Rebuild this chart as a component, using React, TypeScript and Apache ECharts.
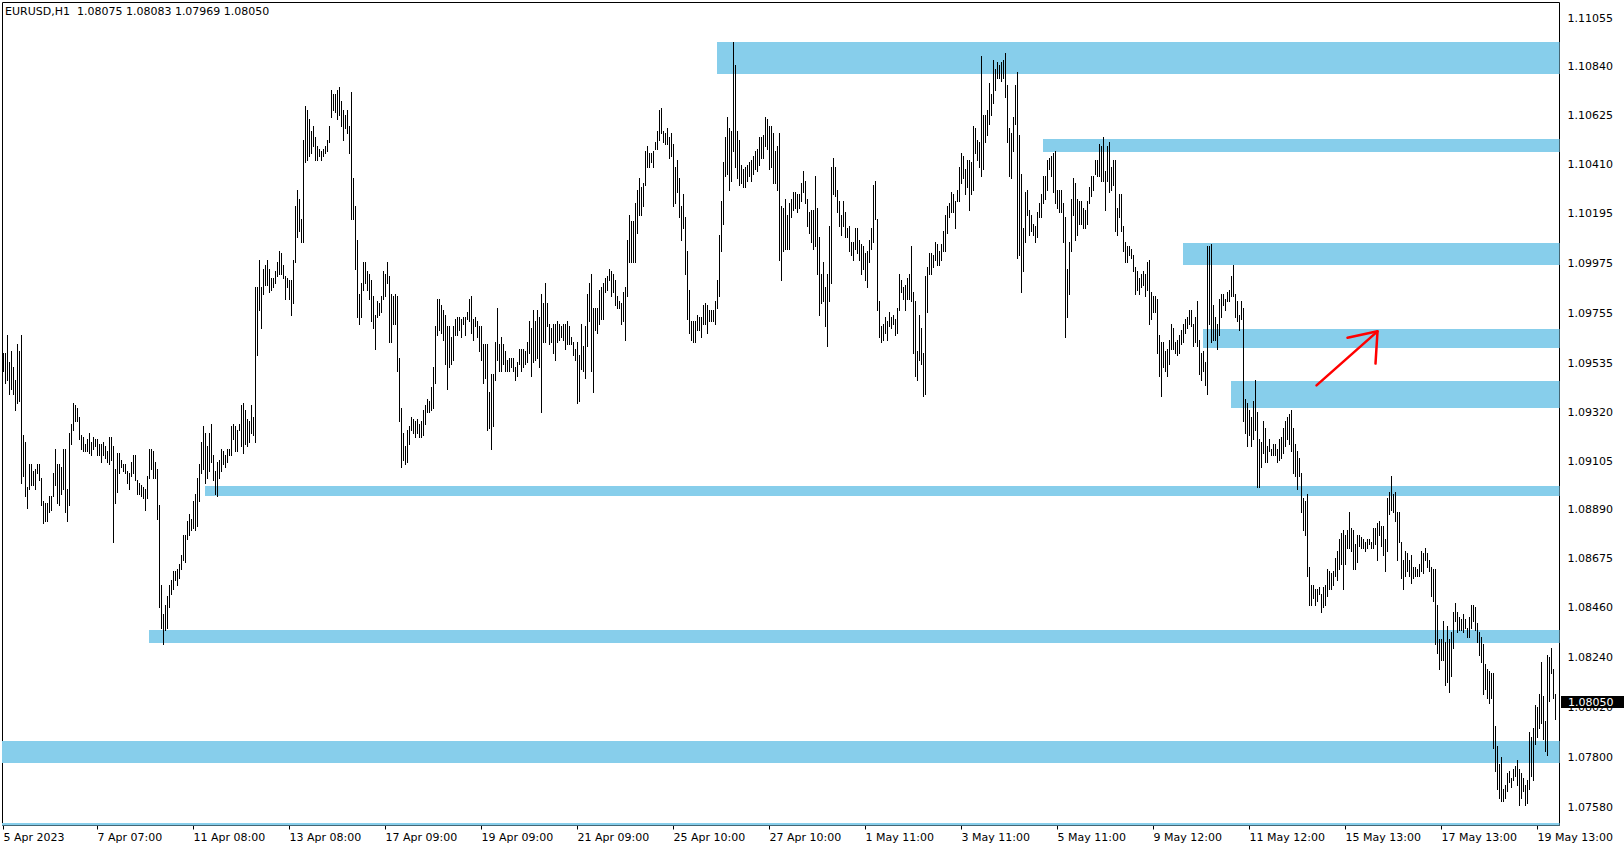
import React, { useEffect, useRef } from "react";
import * as echarts from "echarts";

// EURUSD H1 bars, each entry is [high, low]
type Bar = [number, number];

const headerText = "EURUSD,H1  1.08075 1.08083 1.07969 1.08050";
const lastClose = 1.0805;
const lastCloseText = "1.08050";

const barsApr05: Bar[] = [
  [1.0958,1.0950],[1.0958,1.0945],[1.0966,1.0946],[1.0954,1.0940],[1.0959,1.0942],[1.0952,1.0940],[1.0946,1.0933],[1.0962,1.0936],[1.0959,1.0937],[1.0966,1.0901],
  [1.0922,1.0904],[1.0919,1.0895],[1.0899,1.0890],[1.0909,1.0898],[1.0909,1.0900],[1.0906,1.0900],[1.0907,1.0898],[1.0909,1.0905],[1.0909,1.0902],[1.0903,1.0891],
  [1.0893,1.0883],[1.0892,1.0884],[1.0892,1.0884],[1.0895,1.0888],[1.0895,1.0889],[1.0905,1.0895],[1.0916,1.0900],[1.0909,1.0892],[1.0909,1.0891],[1.0908,1.0896],
  [1.0916,1.0898],[1.0916,1.0888],[1.0898,1.0884],[1.0923,1.0891],[1.0927,1.0918],[1.0936,1.0924],[1.0935,1.0928],[1.0934,1.0928],[1.0930,1.0920],[1.0922,1.0916],
  [1.0921,1.0915],[1.0918,1.0915],[1.0920,1.0915],[1.0923,1.0914],[1.0919,1.0913],[1.0921,1.0916],[1.0920,1.0917],[1.0920,1.0913],[1.0918,1.0913],[1.0918,1.0910],
  [1.0919,1.0913],[1.0917,1.0912],[1.0915,1.0910],[1.0921,1.0909],[1.0921,1.0911],[1.0917,1.0875],[1.0907,1.0892],[1.0914,1.0897],[1.0914,1.0905],[1.0911,1.0908],
  [1.0909,1.0906],[1.0909,1.0905],[1.0906,1.0901],[1.0905,1.0898],[1.0910,1.0904],[1.0913,1.0905],[1.0913,1.0902],[1.0902,1.0896],[1.0901,1.0896],[1.0900,1.0895],
  [1.0899,1.0894],[1.0898,1.0889],[1.0904,1.0894],[1.0916,1.0903]
];

const barsApr07: Bar[] = [
  [1.0916,1.0907],[1.0915,1.0903],[1.0910,1.0903],[1.0907,1.0885],[1.0891,1.0846],[1.0856,1.0837],[1.0843,1.0830],[1.0847,1.0836],[1.0851,1.0837],[1.0856,1.0846],
  [1.0858,1.0852],[1.0862,1.0854],[1.0862,1.0858],[1.0863,1.0856],[1.0865,1.0859],[1.0869,1.0863],[1.0878,1.0867],[1.0878,1.0866],[1.0884,1.0876],[1.0887,1.0878],
  [1.0885,1.0880],[1.0893,1.0881],[1.0896,1.0880],[1.0903,1.0882],[1.0909,1.0893],[1.0919,1.0905],[1.0926,1.0907],[1.0923,1.0901],[1.0917,1.0903],[1.0923,1.0906],
  [1.0927,1.0910],[1.0913,1.0902],[1.0906,1.0896],[1.0910,1.0895],[1.0911,1.0903],[1.0916,1.0906],[1.0915,1.0909],[1.0913,1.0908],[1.0916,1.0910],[1.0916,1.0913],
  [1.0926,1.0913],[1.0927,1.0920],[1.0926,1.0915],[1.0924,1.0915],[1.0927,1.0924],[1.0935,1.0917],[1.0936,1.0914],[1.0933,1.0918],[1.0929,1.0917],[1.0928,1.0919],
  [1.0935,1.0923],[1.0930,1.0922],[1.0987,1.0919],[1.0987,1.0957],[1.0999,1.0977],[1.0987,1.0969],[1.0995,1.0984],[1.0997,1.0988],[1.0999,1.0988],[1.0995,1.0985],
  [1.0991,1.0986],[1.0991,1.0987],[1.0994,1.0989],[1.0998,1.0992],[1.1003,1.0993],[1.1002,1.0993],[1.0997,1.0991],[1.0992,1.0982],[1.0991,1.0987],[1.0990,1.0982]
];

const barsApr13: Bar[] = [
  [1.0990,1.0975],[1.0999,1.0980],[1.1023,1.0998],[1.1030,1.1009],[1.1026,1.1012],[1.1017,1.1007],[1.1052,1.1007],[1.1067,1.1042],[1.1065,1.1043],[1.1061,1.1045],
  [1.1056,1.1046],[1.1058,1.1049],[1.1053,1.1043],[1.1049,1.1043],[1.1048,1.1045],[1.1047,1.1043],[1.1048,1.1045],[1.1049,1.1046],[1.1052,1.1047],[1.1058,1.1051],
  [1.1074,1.1062],[1.1072,1.1065],[1.1072,1.1064],[1.1074,1.1061],[1.1075,1.1063],[1.1069,1.1058],[1.1065,1.1052],[1.1063,1.1057],[1.1065,1.1055],[1.1058,1.1046],
  [1.1073,1.1017],[1.1035,1.1017],[1.1023,1.0995],[1.1008,1.0974],[1.0984,1.0971],[1.0989,1.0974],[1.0998,1.0986],[1.0998,1.0989],[1.0994,1.0986],[1.0993,1.0982],
  [1.0990,1.0972],[1.0983,1.0969],[1.0975,1.0960],[1.0981,1.0974],[1.0980,1.0975],[1.0983,1.0976],[1.0994,1.0982],[1.0993,1.0983],[1.0998,1.0989],[1.0992,1.0963],
  [1.0984,1.0963],[1.0983,1.0971],[1.0984,1.0971],[1.0983,1.0950],[1.0956,1.0928],[1.0934,1.0908],[1.0923,1.0911],[1.0917,1.0909],[1.0924,1.0910],[1.0926,1.0918],
  [1.0930,1.0924],[1.0929,1.0923],[1.0928,1.0921],[1.0929,1.0923],[1.0927,1.0921],[1.0928,1.0921],[1.0933,1.0922],[1.0935,1.0927],[1.0938,1.0932],[1.0937,1.0932]
];

const barsApr18: Bar[] = [
  [1.0943,1.0933],[1.0952,1.0934],[1.0970,1.0945],[1.0982,1.0966],[1.0982,1.0968],[1.0979,1.0967],[1.0977,1.0964],[1.0975,1.0953],[1.0970,1.0942],[1.0970,1.0952],
  [1.0965,1.0953],[1.0970,1.0955],[1.0973,1.0966],[1.0974,1.0966],[1.0974,1.0968],[1.0973,1.0965],[1.0974,1.0971],[1.0974,1.0966],[1.0976,1.0973],[1.0982,1.0972],
  [1.0983,1.0967],[1.0973,1.0964],[1.0974,1.0970],[1.0972,1.0965],[1.0970,1.0959],[1.0970,1.0955],[1.0962,1.0945],[1.0962,1.0947],[1.0962,1.0924],[1.0941,1.0925],
  [1.0949,1.0916],[1.0949,1.0926],[1.0963,1.0946],[1.0978,1.0955],[1.0962,1.0950],[1.0965,1.0950],[1.0962,1.0953],[1.0959,1.0950],[1.0955,1.0950],[1.0956,1.0950],
  [1.0956,1.0952],[1.0956,1.0950],[1.0952,1.0946],[1.0954,1.0948],[1.0960,1.0953],[1.0960,1.0950],[1.0960,1.0952],[1.0959,1.0953],[1.0963,1.0954],[1.0972,1.0958],
  [1.0969,1.0948],[1.0977,1.0954],[1.0972,1.0955],[1.0977,1.0956],[1.0974,1.0952],[1.0984,1.0932],[1.0980,1.0963],[1.0989,1.0963],[1.0980,1.0970],[1.0971,1.0962],
  [1.0969,1.0963],[1.0971,1.0958],[1.0971,1.0955],[1.0972,1.0963],[1.0971,1.0964],[1.0970,1.0965],[1.0971,1.0964],[1.0971,1.0960],[1.0972,1.0962],[1.0970,1.0962]
];

const barsApr21: Bar[] = [
  [1.0965,1.0962],[1.0963,1.0957],[1.0960,1.0955],[1.0963,1.0936],[1.0957,1.0937],[1.0971,1.0951],[1.0961,1.0950],[1.0970,1.0947],[1.0984,1.0961],[1.0989,1.0972],
  [1.0993,1.0950],[1.0978,1.0941],[1.0978,1.0968],[1.0978,1.0967],[1.0986,1.0971],[1.0987,1.0973],[1.0989,1.0973],[1.0991,1.0985],[1.0992,1.0986],[1.0995,1.0990],
  [1.0994,1.0983],[1.0993,1.0985],[1.0990,1.0979],[1.0983,1.0978],[1.0981,1.0978],[1.0980,1.0971],[1.0985,1.0972],[1.0987,1.0964],[1.1008,1.0983],[1.1019,1.0998],
  [1.1016,1.0998],[1.1016,1.0998],[1.1024,1.0998],[1.1030,1.1011],[1.1035,1.1019],[1.1031,1.1019],[1.1033,1.1023],[1.1047,1.1032],[1.1049,1.1040],[1.1046,1.1040],
  [1.1046,1.1042],[1.1047,1.1040],[1.1051,1.1048],[1.1056,1.1048],[1.1065,1.1052],[1.1066,1.1055],[1.1056,1.1051],[1.1055,1.1050],[1.1057,1.1050],[1.1053,1.1044],
  [1.1055,1.1045],[1.1050,1.1023],[1.1040,1.1024],[1.1043,1.1029],[1.1035,1.1018],[1.1023,1.1008],[1.1028,1.1013],[1.1018,1.0993],[1.1003,1.0973],[1.0986,1.0967],
  [1.0972,1.0964],[1.0972,1.0963],[1.0972,1.0963],[1.0975,1.0968],[1.0974,1.0968],[1.0974,1.0965],[1.0979,1.0971],[1.0980,1.0971],[1.0979,1.0967],[1.0977,1.0972],
  [1.0977,1.0972],[1.0977,1.0972]
];

const barsApr26: Bar[] = [
  [1.0981,1.0971],[1.0990,1.0978],[1.1010,1.0983],[1.1025,1.1003],[1.1042,1.1015],[1.1053,1.1036],[1.1062,1.1037],[1.1057,1.1030],[1.1056,1.1034],[1.1095,1.1047],
  [1.1085,1.1040],[1.1056,1.1035],[1.1052,1.1032],[1.1041,1.1033],[1.1039,1.1031],[1.1040,1.1031],[1.1041,1.1034],[1.1042,1.1036],[1.1043,1.1034],[1.1045,1.1037],
  [1.1047,1.1039],[1.1048,1.1038],[1.1053,1.1041],[1.1053,1.1044],[1.1054,1.1044],[1.1062,1.1049],[1.1061,1.1048],[1.1058,1.1039],[1.1058,1.1040],[1.1055,1.1033],
  [1.1047,1.1033],[1.1049,1.1030],[1.1055,1.0999],[1.1023,1.0990],[1.1022,1.1003],[1.1026,1.1004],[1.1019,1.1004],[1.1024,1.1004],[1.1026,1.1018],[1.1029,1.1021],
  [1.1029,1.1022],[1.1028,1.1020],[1.1028,1.1022],[1.1033,1.1025],[1.1038,1.1029],[1.1034,1.1024],[1.1026,1.1014],[1.1020,1.1011],[1.1021,1.1007],[1.1021,1.1004],
  [1.1036,1.1005],[1.1022,1.0993],[1.1009,1.0975],[1.0993,1.0980],[1.0998,1.0981],[1.0987,1.0970],[1.0993,1.0961],[1.1014,1.0981],[1.1040,1.0989],[1.1044,1.1028],
  [1.1040,1.1027],[1.1030,1.1020],[1.1025,1.1014],[1.1019,1.1010],[1.1025,1.1014],[1.1020,1.1009],[1.1013,1.1009],[1.1014,1.1003],[1.1007,1.1001],[1.1007,1.0999]
];

const barsMay01: Bar[] = [
  [1.1013,1.1004],[1.1013,1.1002],[1.1008,1.0999],[1.1006,1.0993],[1.1005,1.0995],[1.1002,1.0990],[1.1003,1.0987],[1.1008,1.0998],[1.1013,1.1004],[1.1032,1.1007],
  [1.1034,1.1017],[1.1017,1.0977],[1.0981,1.0965],[1.0970,1.0963],[1.0971,1.0964],[1.0974,1.0967],[1.0972,1.0964],[1.0976,1.0970],[1.0974,1.0969],[1.0975,1.0971],
  [1.0973,1.0966],[1.0978,1.0967],[1.0993,1.0977],[1.0990,1.0985],[1.0987,1.0982],[1.0988,1.0977],[1.0991,1.0982],[1.0993,1.0982],[1.1005,1.0981],[1.0985,1.0958],
  [1.0981,1.0948],[1.0959,1.0946],[1.0975,1.0955],[1.0969,1.0953],[1.0958,1.0939],[1.0992,1.0940],[1.0996,1.0976],[1.1002,1.0993],[1.1002,1.0993],[1.1001,1.0996],
  [1.1007,1.0999],[1.1006,1.0997],[1.1003,1.0997],[1.1006,1.0999],[1.1012,1.1003],[1.1019,1.1003],[1.1023,1.1011],[1.1024,1.1018],[1.1029,1.1020],[1.1028,1.1020],
  [1.1025,1.1013],[1.1030,1.1025],[1.1040,1.1025],[1.1046,1.1033],[1.1045,1.1035],[1.1039,1.1028],[1.1043,1.1031],[1.1043,1.1021],[1.1042,1.1028],[1.1058,1.1030],
  [1.1057,1.1046],[1.1052,1.1043],[1.1051,1.1040],[1.1089,1.1036],[1.1063,1.1039],[1.1063,1.1051],[1.1065,1.1054],[1.1077,1.1059],[1.1072,1.1063],[1.1087,1.1068],
  [1.1083,1.1074],[1.1086,1.1079],[1.1085,1.1079]
];

const barsMay04: Bar[] = [
  [1.1086,1.1078],[1.1087,1.1079],[1.1090,1.1071],[1.1076,1.1051],[1.1057,1.1036],[1.1055,1.1035],[1.1062,1.1047],[1.1076,1.1059],[1.1082,1.1000],[1.1054,1.1001],
  [1.1037,1.0985],[1.1013,1.0994],[1.1029,1.1007],[1.1030,1.1019],[1.1021,1.1010],[1.1019,1.1012],[1.1015,1.1010],[1.1014,1.1007],[1.1020,1.1009],[1.1024,1.1018],
  [1.1028,1.1018],[1.1036,1.1024],[1.1036,1.1026],[1.1043,1.1030],[1.1044,1.1039],[1.1045,1.1036],[1.1046,1.1029],[1.1047,1.1024],[1.1030,1.1022],[1.1030,1.1020],
  [1.1030,1.1020],[1.1024,1.1007],[1.1018,1.0965],[1.0995,1.0974],[1.1007,1.0984],[1.1026,1.1003],[1.1035,1.1019],[1.1033,1.1008],[1.1026,1.1010],[1.1025,1.1015],
  [1.1025,1.1015],[1.1022,1.1013],[1.1021,1.1013],[1.1025,1.1015],[1.1031,1.1024],[1.1036,1.1027],[1.1036,1.1030],[1.1043,1.1037],[1.1043,1.1036],[1.1050,1.1036],
  [1.1049,1.1034],[1.1053,1.1034],[1.1038,1.1021],[1.1049,1.1034],[1.1051,1.1029],[1.1040,1.1030],[1.1043,1.1032],[1.1043,1.1012],[1.1022,1.1010],[1.1028,1.1018],
  [1.1028,1.1012],[1.1014,1.1003],[1.1007,1.0998],[1.1005,1.0998],[1.1005,1.1001],[1.1004,1.1000],[1.1001,1.0994],[1.0996,1.0984],[1.0994,1.0986],[1.0991,1.0984]
];

const barsMay09: Bar[] = [
  [1.0993,1.0987],[1.0994,1.0988],[1.0993,1.0983],[1.0998,1.0986],[1.0999,1.0971],[1.0985,1.0973],[1.0983,1.0976],[1.0983,1.0976],[1.0982,1.0958],[1.0966,1.0948],
  [1.0963,1.0939],[1.0963,1.0952],[1.0959,1.0950],[1.0960,1.0948],[1.0964,1.0953],[1.0971,1.0960],[1.0969,1.0960],[1.0963,1.0958],[1.0964,1.0957],[1.0966,1.0958],
  [1.0968,1.0962],[1.0971,1.0963],[1.0973,1.0967],[1.0974,1.0969],[1.0977,1.0971],[1.0977,1.0970],[1.0971,1.0961],[1.0974,1.0963],[1.0981,1.0961],[1.0964,1.0949],
  [1.0958,1.0946],[1.0959,1.0950],[1.0954,1.0944],[1.1005,1.0940],[1.1005,1.0971],[1.1006,1.0963],[1.0979,1.0964],[1.0974,1.0964],[1.0971,1.0960],[1.0982,1.0966],
  [1.0984,1.0974],[1.0984,1.0979],[1.0982,1.0977],[1.0985,1.0981],[1.0986,1.0981],[1.0992,1.0983],[1.0997,1.0983],[1.0984,1.0974],[1.0981,1.0972],[1.0975,1.0968],
  [1.0981,1.0973],[1.0978,1.0928],[1.0938,1.0923],[1.0936,1.0917],[1.0933,1.0922],[1.0930,1.0917],[1.0937,1.0920],[1.0946,1.0924],[1.0932,1.0899],[1.0920,1.0899],
  [1.0919,1.0908],[1.0928,1.0914],[1.0925,1.0910],[1.0917,1.0910],[1.0920,1.0915],[1.0916,1.0913],[1.0918,1.0913],[1.0918,1.0913],[1.0916,1.0910],[1.0920,1.0911],
  [1.0921,1.0912],[1.0925,1.0914],[1.0928,1.0917],[1.0930,1.0920],[1.0931,1.0918],[1.0933,1.0915],[1.0925,1.0905],[1.0918,1.0904],[1.0915,1.0898],[1.0912,1.0904]
];

const barsMay12: Bar[] = [
  [1.0905,1.0888],[1.0894,1.0880],[1.0893,1.0878],[1.0896,1.0860],[1.0864,1.0847],[1.0856,1.0847],[1.0856,1.0850],[1.0854,1.0847],[1.0854,1.0849],[1.0855,1.0852],
  [1.0852,1.0844],[1.0855,1.0846],[1.0856,1.0847],[1.0863,1.0851],[1.0862,1.0854],[1.0861,1.0854],[1.0862,1.0856],[1.0868,1.0860],[1.0871,1.0858],[1.0876,1.0863],
  [1.0879,1.0865],[1.0880,1.0854],[1.0878,1.0865],[1.0880,1.0872],[1.0888,1.0872],[1.0881,1.0871],[1.0880,1.0863],[1.0874,1.0863],[1.0878,1.0866],[1.0878,1.0873],
  [1.0877,1.0872],[1.0876,1.0872],[1.0875,1.0871],[1.0876,1.0872],[1.0876,1.0874],[1.0875,1.0872],[1.0881,1.0872],[1.0881,1.0874],[1.0883,1.0867],[1.0884,1.0878],
  [1.0882,1.0873],[1.0882,1.0869],[1.0876,1.0862],[1.0894,1.0871],[1.0897,1.0887],[1.0904,1.0889],[1.0896,1.0888],[1.0897,1.0884],[1.0888,1.0867],[1.0888,1.0875],
  [1.0875,1.0859],[1.0867,1.0854],[1.0871,1.0860],[1.0870,1.0862],[1.0867,1.0860],[1.0869,1.0857],[1.0864,1.0859],[1.0864,1.0860],[1.0863,1.0860],[1.0865,1.0860]
];

const barsMay17: Bar[] = [
  [1.0871,1.0862],[1.0870,1.0861],[1.0872,1.0867],[1.0870,1.0864],[1.0867,1.0862],[1.0864,1.0851],[1.0863,1.0849],[1.0863,1.0830],[1.0847,1.0826],[1.0832,1.0819],
  [1.0832,1.0823],[1.0840,1.0823],[1.0831,1.0812],[1.0838,1.0813],[1.0832,1.0809],[1.0835,1.0816],[1.0844,1.0828],[1.0848,1.0840],[1.0844,1.0835],[1.0842,1.0836],
  [1.0841,1.0836],[1.0843,1.0835],[1.0841,1.0837],[1.0837,1.0833],[1.0842,1.0833],[1.0847,1.0837],[1.0847,1.0840],[1.0846,1.0836],[1.0839,1.0831],[1.0835,1.0825],
  [1.0833,1.0822],[1.0830,1.0808],[1.0821,1.0810],[1.0819,1.0806],[1.0818,1.0804],[1.0817,1.0806],[1.0817,1.0784],[1.0794,1.0774],[1.0785,1.0766],[1.0777,1.0762],
  [1.0780,1.0761],[1.0766,1.0761],[1.0768,1.0762],[1.0773,1.0765],[1.0774,1.0769],[1.0771,1.0767],[1.0775,1.0770],[1.0776,1.0772],[1.0779,1.0768],[1.0775,1.0759],
  [1.0773,1.0762],[1.0771,1.0765],[1.0768,1.0759],[1.0770,1.0760],[1.0791,1.0766],[1.0789,1.0772],[1.0793,1.0770],[1.0803,1.0786],[1.0802,1.0789],[1.0808,1.0793],
  [1.0822,1.0795],[1.0807,1.0788],[1.0796,1.0783],[1.0825,1.0781],[1.0824,1.0805],[1.0828,1.0817],[1.0819,1.0806],[1.0808,1.0797]
];

const allBars: Bar[] = [
  ...barsApr05, ...barsApr07, ...barsApr13, ...barsApr18, ...barsApr21, ...barsApr26,
  ...barsMay01, ...barsMay04, ...barsMay09, ...barsMay12, ...barsMay17,
];

// time scale labels (bar index -> label)
const timeTickBars = [0, 47, 95, 143, 191, 239, 287, 335, 383, 431, 479, 527, 575, 623, 671, 719, 767];
const timeTickLabels = [
  "5 Apr 2023", "7 Apr 07:00", "11 Apr 08:00", "13 Apr 08:00", "17 Apr 09:00", "19 Apr 09:00",
  "21 Apr 09:00", "25 Apr 10:00", "27 Apr 10:00", "1 May 11:00", "3 May 11:00", "5 May 11:00",
  "9 May 12:00", "11 May 12:00", "15 May 13:00", "17 May 13:00", "19 May 13:00",
];

// price scale labels
const priceTicks = [
  1.11055, 1.1084, 1.10625, 1.1041, 1.10195, 1.09975, 1.09755, 1.09535, 1.0932,
  1.09105, 1.0889, 1.08675, 1.0846, 1.0824, 1.0802, 1.078, 1.0758,
];

// supply / demand rectangles: start bar, top price, bottom price
const zoneStart = [357, 520, 590, 600, 614, 101, 73, -0.5, -0.5];
const zoneTop = [1.10951, 1.10523, 1.10065, 1.09686, 1.09457, 1.08995, 1.08361, 1.07872, 1.07512];
const zoneBottom = [1.10809, 1.10466, 1.09969, 1.09604, 1.0934, 1.08952, 1.08305, 1.07776, 1.074];

// red hand-drawn arrow: [bar, price]
const arrowShaft = [[656.5, 1.09438], [687, 1.09676]];
const arrowHead = [[672, 1.09648], [687, 1.09676], [686, 1.09534]];

const FONT = "'DejaVu Sans', sans-serif";
const X_MIN = -0.5;
const X_MAX = 778;
const Y_MIN = 1.075;
const Y_MAX = 1.11124;

export default function App() {
  const ref = useRef<HTMLDivElement>(null);

  useEffect(() => {
    if (!ref.current) return;
    const chart = echarts.init(ref.current, undefined, { renderer: "svg" });

    const labelMap: Record<number, string> = {};
    timeTickBars.forEach((b, i) => (labelMap[b] = timeTickLabels[i]));

    const zoneData = zoneStart.map((s, i) => [s, X_MAX, zoneTop[i], zoneBottom[i]]);
    const barData = allBars.map((b, i) => [i, b[0], b[1]]);

    const option: any = {
      animation: false,
      backgroundColor: "#ffffff",
      title: {
        text: headerText,
        left: 5,
        top: 6,
        padding: 0,
        textStyle: { fontFamily: FONT, fontSize: 11, fontWeight: "normal", color: "#000" },
      },
      grid: {
        left: 2.5,
        right: 64.5,
        top: 2.5,
        bottom: 24.5,
        show: true,
        borderColor: "#000",
        borderWidth: 1,
        backgroundColor: "transparent",
      },
      xAxis: {
        type: "value",
        min: X_MIN,
        max: X_MAX,
        axisLine: { show: false },
        splitLine: { show: false },
        axisTick: { show: true, customValues: timeTickBars, length: 4, lineStyle: { color: "#000" } },
        axisLabel: {
          customValues: timeTickBars,
          formatter: (v: number) => labelMap[v] ?? "",
          align: "left",
          color: "#000",
          fontFamily: FONT,
          fontSize: 11,
          margin: 6,
        },
      },
      yAxis: {
        type: "value",
        position: "right",
        min: Y_MIN,
        max: Y_MAX,
        axisLine: { show: false },
        axisTick: { show: false },
        splitLine: { show: false },
        axisLabel: {
          customValues: priceTicks,
          formatter: (v: number) => v.toFixed(5),
          color: "#000",
          fontFamily: FONT,
          fontSize: 11,
          margin: 8,
        },
      },
      series: [
        {
          type: "custom",
          name: "zones",
          clip: true,
          z: 1,
          data: zoneData,
          renderItem: (_p: any, api: any) => {
            const a = api.coord([api.value(0), api.value(2)]);
            const b = api.coord([api.value(1), api.value(3)]);
            const x0 = Math.floor(a[0]);
            const y0 = Math.round(a[1]);
            const y1 = Math.round(b[1]);
            return {
              type: "rect",
              shape: { x: x0, y: y0, width: b[0] - x0, height: Math.max(1, y1 - y0) },
              style: { fill: "#87CEEB" },
            };
          },
        },
        {
          type: "custom",
          name: "EURUSD",
          clip: true,
          z: 2,
          progressive: 0,
          data: barData,
          encode: { x: 0, y: [1, 2] },
          renderItem: (_p: any, api: any) => {
            const hi = api.coord([api.value(0), api.value(1)]);
            const lo = api.coord([api.value(0), api.value(2)]);
            const x = Math.floor(hi[0]) + 0.5;
            return {
              type: "line",
              shape: { x1: x, y1: Math.round(hi[1]), x2: x, y2: Math.round(lo[1]) + 1 },
              style: { stroke: "#000", lineWidth: 1 },
            };
          },
        },
        {
          type: "custom",
          name: "arrow",
          z: 3,
          data: [[0]],
          renderItem: (_p: any, api: any) => {
            const shaft = arrowShaft.map((p) => api.coord(p));
            const head = arrowHead.map((p) => api.coord(p));
            return {
              type: "group",
              children: [
                { type: "polyline", shape: { points: shaft }, style: { stroke: "#ff0000", lineWidth: 2.5, fill: "none", lineCap: "round" } },
                { type: "polyline", shape: { points: head }, style: { stroke: "#ff0000", lineWidth: 2.5, fill: "none", lineCap: "round", lineJoin: "round" } },
              ],
            };
          },
        },
      ],
    };

    chart.setOption(option);

    const py = chart.convertToPixel({ yAxisIndex: 0 }, lastClose) as number;
    const cy = Math.round(py) + 1;
    chart.setOption({
      graphic: [
        {
          type: "rect",
          z: 100,
          shape: { x: 1561, y: cy - 6, width: 63, height: 12 },
          style: { fill: "#000" },
        },
        {
          type: "text",
          z: 101,
          x: 1568,
          y: cy,
          style: { text: lastCloseText, fill: "#fff", font: `11px ${FONT}`, verticalAlign: "middle", align: "left" },
        },
      ],
    });

    return () => chart.dispose();
  }, []);

  return (
    <div
      ref={ref}
      style={{ position: "fixed", left: 0, top: 0, width: 1624, height: 850, background: "#fff" }}
    />
  );
}
